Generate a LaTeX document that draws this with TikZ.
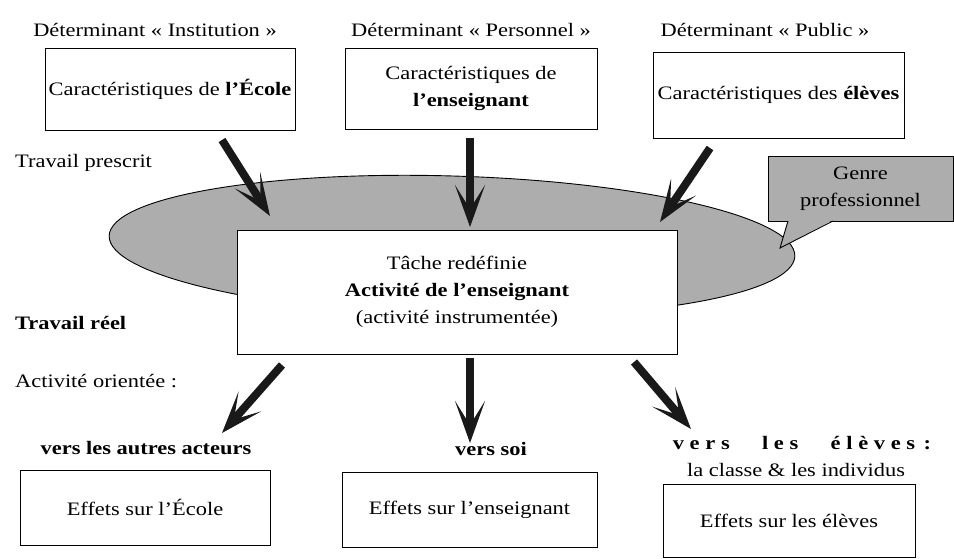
\documentclass[tikz,border=0pt]{standalone}
\usepackage{fontspec}
\setmainfont{Liberation Serif}[FakeStretch=1.18]
\usetikzlibrary{arrows.meta,shapes.geometric}
\newcommand\fsz{\fontsize{19}{27}\selectfont}
\begin{document}
\begin{tikzpicture}[x=1pt,y=-1pt,
  box/.style={draw, line width=0.9pt, fill=white, inner sep=0pt, align=center, font=\fsz},
  lbl/.style={inner sep=0pt, align=center, font=\fsz},
  bigarrow/.style={line width=8pt, black!90, -{Stealth[length=42pt,width=30pt,inset=24pt]}},
  shade/.style={fill=black!32}]
\useasboundingbox[fill=white] (0,0) rectangle (954,559);

% top labels
\node[lbl] (det1) at (155,30) {Déterminant «~Institution~»};
\node[lbl] (det2) at (471,30) {Déterminant «~Personnel~»};
\node[lbl] (det3) at (765,30) {Déterminant «~Public~»};

% top boxes
\node[box, minimum width=250pt, minimum height=82pt] (ecole) at (170,89) {Caractéristiques de \textbf{l’École}};
\node[box, minimum width=252pt, minimum height=81pt] (ens) at (471,88.5) {Caractéristiques de\\\textbf{l’enseignant}};
\node[box, minimum width=251pt, minimum height=86pt] (elev) at (778.5,95) {Caractéristiques des \textbf{élèves}};

% side labels
\node[lbl, anchor=west] (prescrit) at (15,163) {Travail prescrit};
\node[lbl, anchor=west] (reel) at (15,323) {\textbf{Travail réel}};
\node[lbl, anchor=west] (orient) at (15,381) {Activité orientée :};

% ellipse zone
\node[ellipse, draw, line width=0.9pt, shade, minimum width=686pt, minimum height=140pt, inner sep=0pt, rotate=-1.7] (zone) at (452,246) {};

% genre professionnel callout
\node[draw, line width=0.9pt, shade, minimum width=185pt, minimum height=65pt, inner sep=0pt, align=center, font=\fsz] (genre) at (860.5,188.5) {Genre\\professionnel};
\coordinate (gtip) at (780,248);
\fill[black!32] (788,220) -- (gtip) -- (833,220) -- cycle;
\draw[line width=0.9pt] (788,221) -- (gtip) -- (833,221);

% central box
\node[box, minimum width=440pt, minimum height=124pt] (act) at (457,292) {Tâche redéfinie\\\textbf{Activité de l’enseignant}\\(activité instrumentée)};

% arrows in
\coordinate (a1s) at (222,140); \coordinate (a1e) at (270,216);
\coordinate (a2s) at (470,138); \coordinate (a2e) at (470,227);
\coordinate (a3s) at (710,148); \coordinate (a3e) at (660,222);
\draw[bigarrow] (a1s) -- (a1e);
\draw[bigarrow] (a2s) -- (a2e);
\draw[bigarrow] (a3s) -- (a3e);

% arrows out
\coordinate (a4s) at (282,365); \coordinate (a4e) at (222,433);
\coordinate (a5s) at (470,358); \coordinate (a5e) at (470,443);
\coordinate (a6s) at (634,362); \coordinate (a6e) at (691,429);
\draw[bigarrow] (a4s) -- (a4e);
\draw[bigarrow] (a5s) -- (a5e);
\draw[bigarrow] (a6s) -- (a6e);

% orientation labels
\node[lbl] (autres) at (146,448) {\textbf{vers les autres acteurs}};
\node[lbl] (soi) at (491,449) {\textbf{vers soi}};
\node[lbl] (verseleves) at (802,443) {\bfseries\addfontfeature{LetterSpace=30}vers\hspace{1.7em}les\hspace{1.7em}élèves\hspace{0.45em}:};
\node[lbl] (classe) at (796,470) {la classe \& les individus};

% bottom boxes
\node[box, minimum width=250pt, minimum height=75pt] (effE) at (145,507.5) {Effets sur l’École};
\node[box, minimum width=255pt, minimum height=75pt] (effN) at (469.5,509.5) {Effets sur l’enseignant};
\node[box, minimum width=252pt, minimum height=73pt] (effL) at (789,520.5) {Effets sur les élèves};
\end{tikzpicture}
\end{document}
